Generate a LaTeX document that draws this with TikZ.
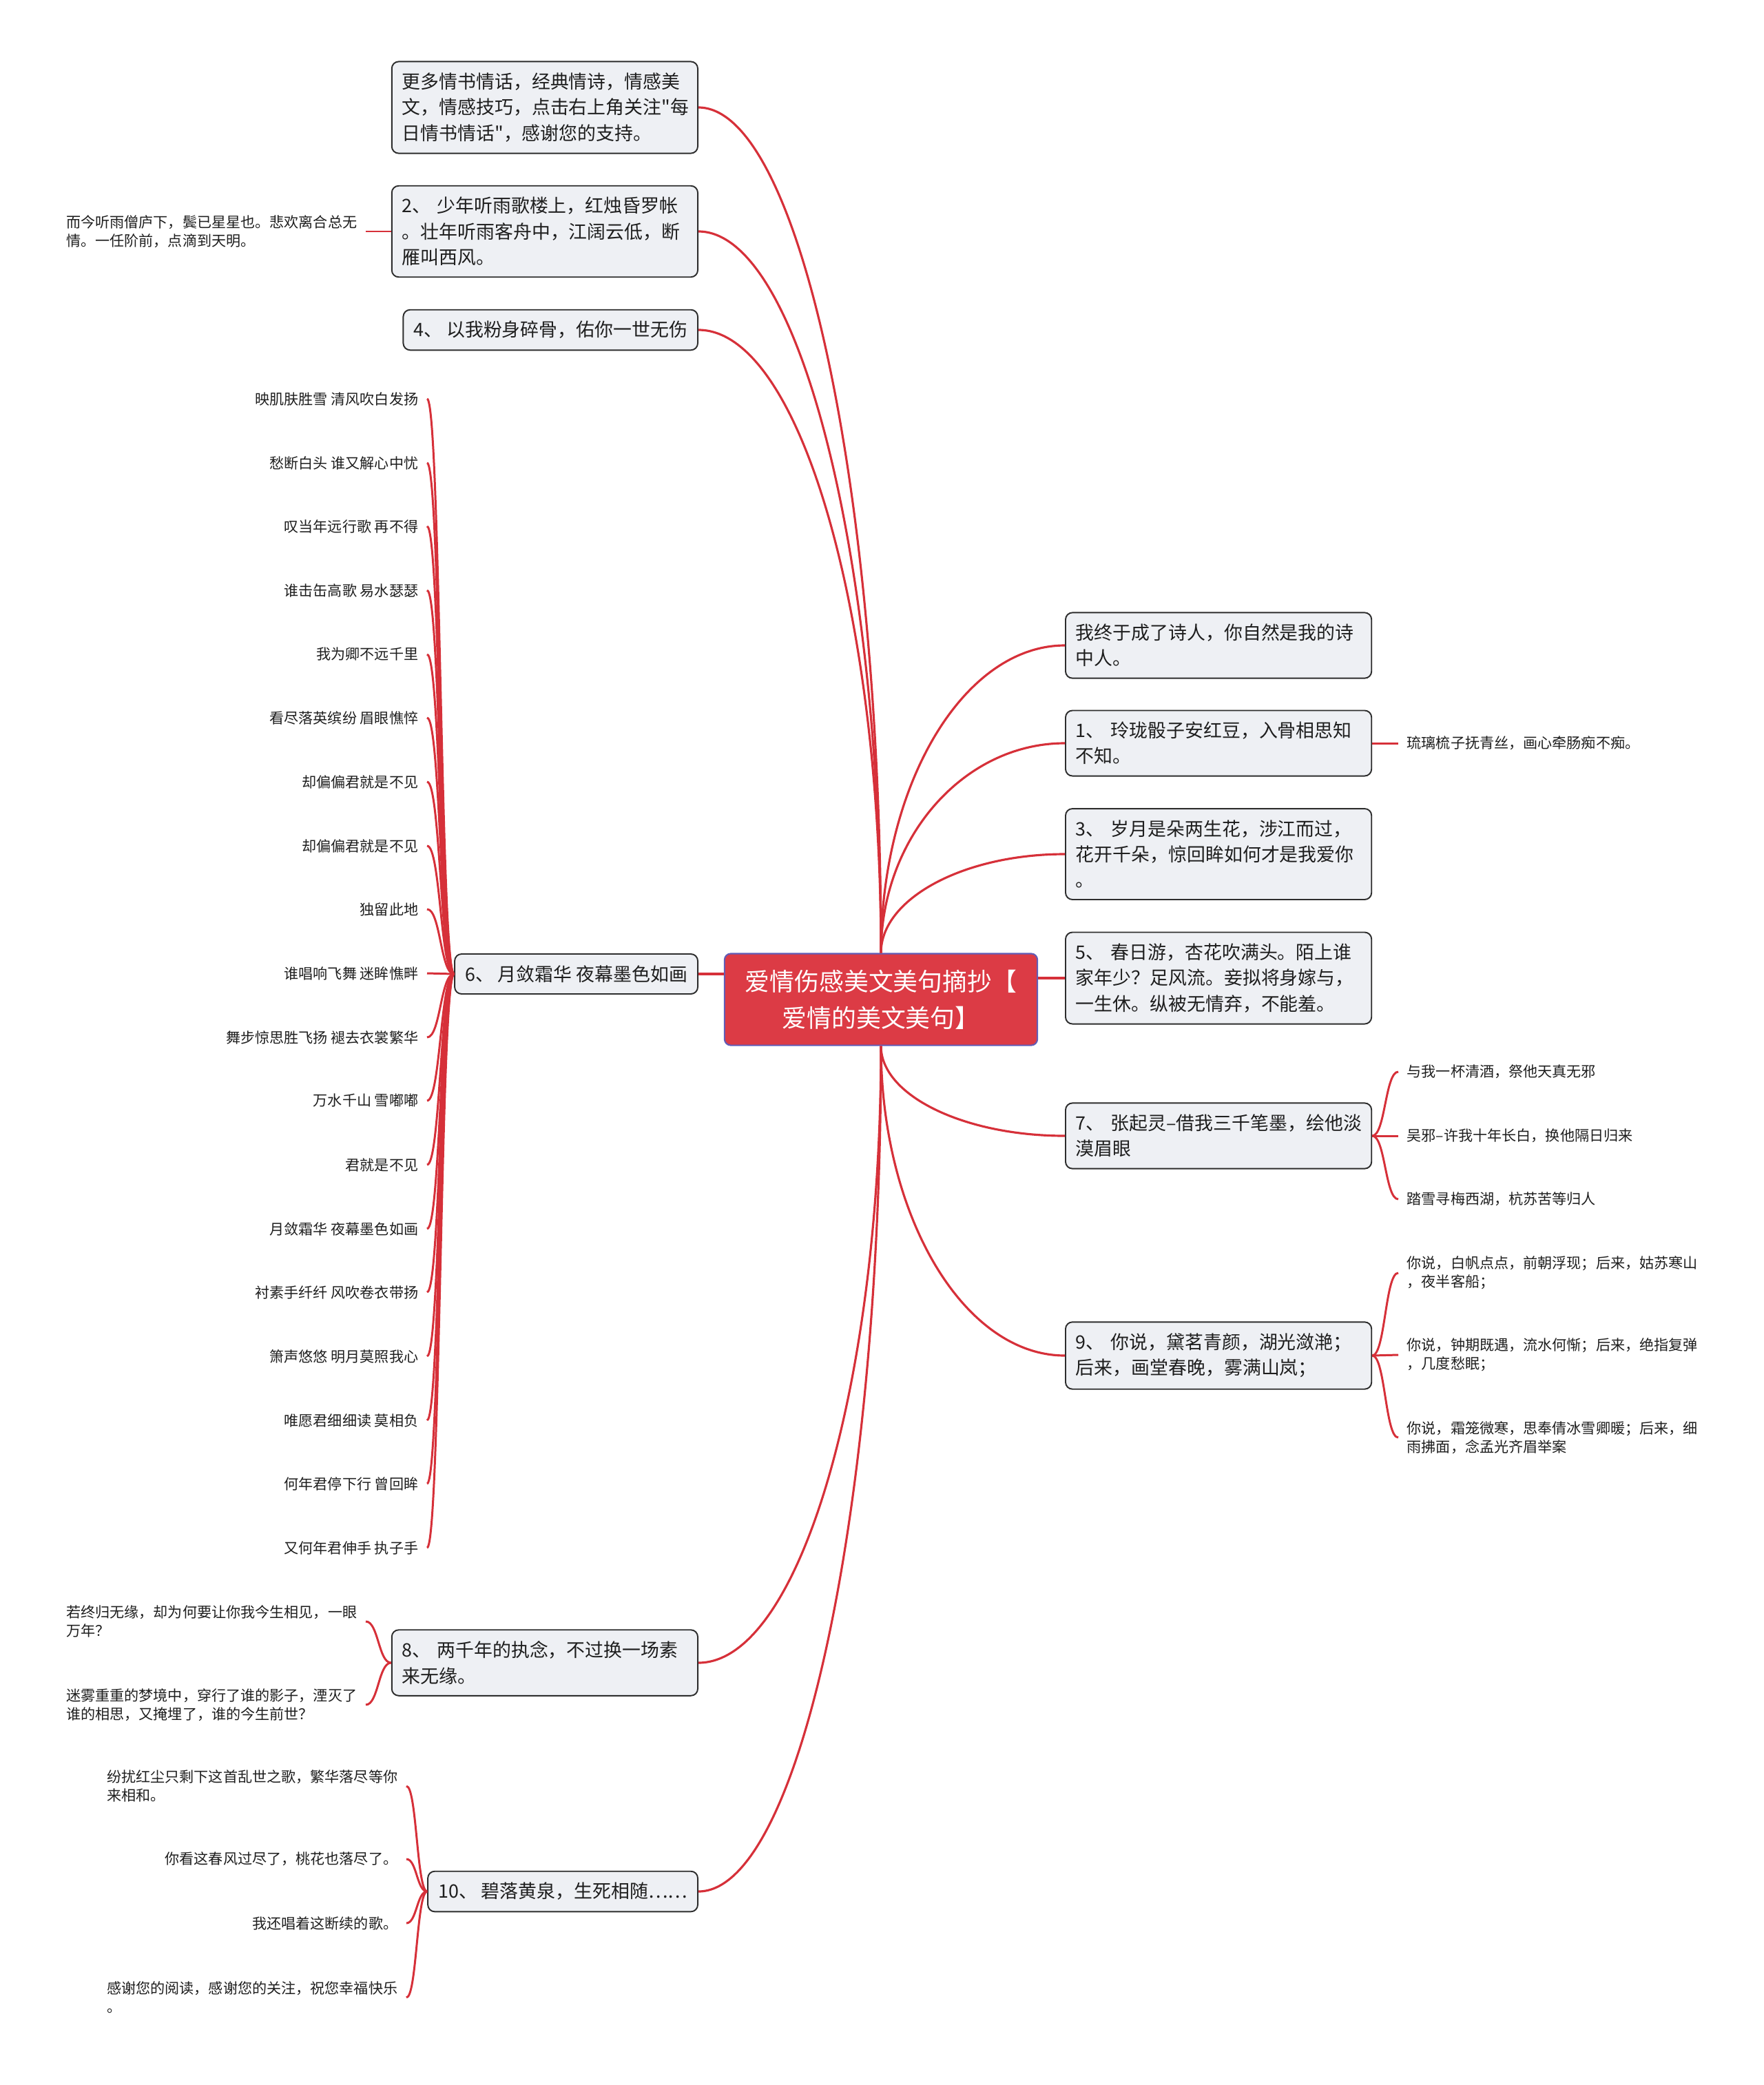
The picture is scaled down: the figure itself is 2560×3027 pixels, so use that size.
\documentclass[tikz,border=0pt]{standalone}
\usepackage{fontspec}
\newfontfamily\cjk{Noto Sans CJK SC}
\usetikzlibrary{calc}
\definecolor{linered}{RGB}{214,48,57}
\definecolor{rootfill}{RGB}{220,59,69}
\definecolor{rootline}{RGB}{98,92,182}
\definecolor{boxfill}{RGB}{238,240,244}
\definecolor{boxline}{RGB}{45,45,45}
\definecolor{ink}{RGB}{30,30,30}
\tikzset{
  rootbox/.style = {draw=rootline, fill=rootfill, text=white,
                    rounded corners=0.09cm, line width=0.6pt,
                    minimum width=4.54cm, minimum height=1.33cm,
                    text width=4.3cm, align=center,
                    font=\cjk\fontsize{10.2}{15}\selectfont},
  topic/.style = {draw=boxline, fill=boxfill, text=ink,
                  rounded corners=0.1cm, line width=0.55pt,
                  inner xsep=0.15cm, inner ysep=0.165cm, align=left,
                  font=\cjk\fontsize{7.65}{10.6}\selectfont},
  widetopic/.style = {topic, text width=4.14cm},
  leaf/.style = {text=ink, inner xsep=0.12cm, inner ysep=0.04cm, align=left,
                 font=\cjk\fontsize{6}{7.65}\selectfont},
  wire/.style = {draw=linered, line width=0.9pt},
  stem/.style = {wire, to path={let \p1=(\tikztostart), \p2=(\tikztotarget) in
                 .. controls (\x1,{\y1+0.55*(\y2-\y1)}) and ({\x2+0.55*(\x1-\x2)},\y2) .. (\tikztotarget)}},
  twig/.style = {draw=linered, line width=0.85pt,
                 to path={let \p1=(\tikztostart), \p2=(\tikztotarget) in
                 .. controls ({0.5*(\x1+\x2)},\y1) and ({0.5*(\x1+\x2)},\y2) .. (\tikztotarget)}}
}
\begin{document}
\begin{tikzpicture}[x=0.01cm, y=-0.01cm]
	\useasboundingbox (0,0) rectangle (2560,3027);
	\node[rootbox] (root) at (1279,1451) {爱情伤感美文美句摘抄【\\爱情的美文美句】};

	\node[widetopic, anchor=east] (more) at (1014,156) {更多情书情话，经典情诗，情感美\\文，情感技巧，点击右上角关注"每\\日情书情话"，感谢您的支持。};
	\node[widetopic, anchor=east] (t2) at (1014,336) {2、 少年听雨歌楼上，红烛昏罗帐\\。壮年听雨客舟中，江阔云低，断\\雁叫西风。};
	\node[topic, anchor=east] (t4) at (1014,479) {4、 以我粉身碎骨，佑你一世无伤};
	\node[topic, anchor=east] (t6) at (1014,1414) {6、 月敛霜华 夜幕墨色如画};
	\node[widetopic, anchor=east] (t8) at (1014,2414) {8、 两千年的执念，不过换一场素\\来无缘。};
	\node[topic, anchor=east] (t10) at (1014,2746) {10、 碧落黄泉，生死相随……};

	\node[widetopic, anchor=west] (poet) at (1546,937) {我终于成了诗人，你自然是我的诗\\中人。};
	\node[widetopic, anchor=west] (t1) at (1546,1079) {1、 玲珑骰子安红豆，入骨相思知\\不知。};
	\node[widetopic, anchor=west] (t3) at (1546,1240) {3、 岁月是朵两生花，涉江而过，\\花开千朵，惊回眸如何才是我爱你\\。};
	\node[widetopic, anchor=west] (t5) at (1546,1420) {5、 春日游，杏花吹满头。陌上谁\\家年少？足风流。妾拟将身嫁与，\\一生休。纵被无情弃，不能羞。};
	\node[widetopic, anchor=west] (t7) at (1546,1649) {\mbox{7、 张起灵–借我三千笔墨，绘他淡}\\漠眉眼};
	\node[widetopic, anchor=west] (t9) at (1546,1968) {9、 你说，黛茗青颜，湖光潋滟；\\后来，画堂春晚，雾满山岚；};

	\draw[stem] (root.north) to (more.east);
	\draw[stem] (root.north) to (t2.east);
	\draw[stem] (root.north) to (t4.east);
	\draw[wire] (t6.east) -- (t6.east -| root.west);
	\draw[stem] (root.south) to (t8.east);
	\draw[stem] (root.south) to (t10.east);
	\draw[stem] (root.north) to (poet.west);
	\draw[stem] (root.north) to (t1.west);
	\draw[stem] (root.north) to (t3.west);
	\draw[wire] (t5.west) -- (t5.west -| root.east);
	\draw[stem] (root.south) to (t7.west);
	\draw[stem] (root.south) to (t9.west);

	\node[leaf, anchor=east] (t2a) at (531,336) {而今听雨僧庐下，鬓已星星也。悲欢离合总无\\情。一任阶前，点滴到天明。};
	\draw[twig] (t2.west) to (t2a.east);

	\node[leaf, anchor=east] (t6a) at (620,579) {映肌肤胜雪 清风吹白发扬};
	\node[leaf, anchor=east] (t6b) at (620,672) {愁断白头 谁又解心中忧};
	\node[leaf, anchor=east] (t6c) at (620,764) {叹当年远行歌 再不得};
	\node[leaf, anchor=east] (t6d) at (620,857) {谁击缶高歌 易水瑟瑟};
	\node[leaf, anchor=east] (t6e) at (620,950) {我为卿不远千里};
	\node[leaf, anchor=east] (t6f) at (620,1042) {看尽落英缤纷 眉眼憔悴};
	\node[leaf, anchor=east] (t6g) at (620,1135) {却偏偏君就是不见};
	\node[leaf, anchor=east] (t6h) at (620,1228) {却偏偏君就是不见};
	\node[leaf, anchor=east] (t6i) at (620,1320) {独留此地};
	\node[leaf, anchor=east] (t6j) at (620,1413) {谁唱响飞舞 迷眸憔畔};
	\node[leaf, anchor=east] (t6k) at (620,1506) {舞步惊思胜飞扬 褪去衣裳繁华};
	\node[leaf, anchor=east] (t6l) at (620,1598) {万水千山 雪嘟嘟};
	\node[leaf, anchor=east] (t6m) at (620,1691) {君就是不见};
	\node[leaf, anchor=east] (t6n) at (620,1784) {月敛霜华 夜幕墨色如画};
	\node[leaf, anchor=east] (t6o) at (620,1876) {衬素手纤纤 风吹卷衣带扬};
	\node[leaf, anchor=east] (t6p) at (620,1969) {箫声悠悠 明月莫照我心};
	\node[leaf, anchor=east] (t6q) at (620,2062) {唯愿君细细读 莫相负};
	\node[leaf, anchor=east] (t6r) at (620,2154) {何年君停下行 曾回眸};
	\node[leaf, anchor=east] (t6s) at (620,2247) {又何年君伸手 执子手};
	\draw[twig] (t6.west) to (t6a.east);
	\draw[twig] (t6.west) to (t6b.east);
	\draw[twig] (t6.west) to (t6c.east);
	\draw[twig] (t6.west) to (t6d.east);
	\draw[twig] (t6.west) to (t6e.east);
	\draw[twig] (t6.west) to (t6f.east);
	\draw[twig] (t6.west) to (t6g.east);
	\draw[twig] (t6.west) to (t6h.east);
	\draw[twig] (t6.west) to (t6i.east);
	\draw[twig] (t6.west) to (t6j.east);
	\draw[twig] (t6.west) to (t6k.east);
	\draw[twig] (t6.west) to (t6l.east);
	\draw[twig] (t6.west) to (t6m.east);
	\draw[twig] (t6.west) to (t6n.east);
	\draw[twig] (t6.west) to (t6o.east);
	\draw[twig] (t6.west) to (t6p.east);
	\draw[twig] (t6.west) to (t6q.east);
	\draw[twig] (t6.west) to (t6r.east);
	\draw[twig] (t6.west) to (t6s.east);

	\node[leaf, anchor=east] (t8a) at (531,2354) {若终归无缘，却为何要让你我今生相见，一眼\\万年？};
	\node[leaf, anchor=east] (t8b) at (531,2475) {迷雾重重的梦境中，穿行了谁的影子，湮灭了\\谁的相思，又掩埋了，谁的今生前世？};
	\draw[twig] (t8.west) to (t8a.east);
	\draw[twig] (t8.west) to (t8b.east);

	\node[leaf, anchor=east] (t10a) at (590,2593) {纷扰红尘只剩下这首乱世之歌，繁华落尽等你\\来相和。};
	\node[leaf, anchor=east] (t10b) at (590,2699) {你看这春风过尽了，桃花也落尽了。};
	\node[leaf, anchor=east] (t10c) at (590,2792) {我还唱着这断续的歌。};
	\node[leaf, anchor=east] (t10d) at (590,2900) {感谢您的阅读，感谢您的关注，祝您幸福快乐\\。};
	\draw[twig] (t10.west) to (t10a.east);
	\draw[twig] (t10.west) to (t10b.east);
	\draw[twig] (t10.west) to (t10c.east);
	\draw[twig] (t10.west) to (t10d.east);

	\node[leaf, anchor=west] (t1a) at (2030,1079) {琉璃梳子抚青丝，画心牵肠痴不痴。};
	\draw[twig] (t1.east) to (t1a.west);

	\node[leaf, anchor=west] (t7a) at (2030,1556) {与我一杯清酒，祭他天真无邪};
	\node[leaf, anchor=west] (t7b) at (2030,1649) {吴邪–许我十年长白，换他隔日归来};
	\node[leaf, anchor=west] (t7c) at (2030,1741) {踏雪寻梅西湖，杭苏苦等归人};
	\draw[twig] (t7.east) to (t7a.west);
	\draw[twig] (t7.east) to (t7b.west);
	\draw[twig] (t7.east) to (t7c.west);

	\node[leaf, anchor=west] (t9a) at (2030,1848) {你说，白帆点点，前朝浮现；后来，姑苏寒山\\，夜半客船；};
	\node[leaf, anchor=west] (t9b) at (2030,1967) {你说，钟期既遇，流水何惭；后来，绝指复弹\\，几度愁眠；};
	\node[leaf, anchor=west] (t9c) at (2030,2087) {你说，霜笼微寒，思奉倩冰雪卿暖；后来，细\\雨拂面，念孟光齐眉举案};
	\draw[twig] (t9.east) to (t9a.west);
	\draw[twig] (t9.east) to (t9b.west);
	\draw[twig] (t9.east) to (t9c.west);
\end{tikzpicture}
\end{document}
